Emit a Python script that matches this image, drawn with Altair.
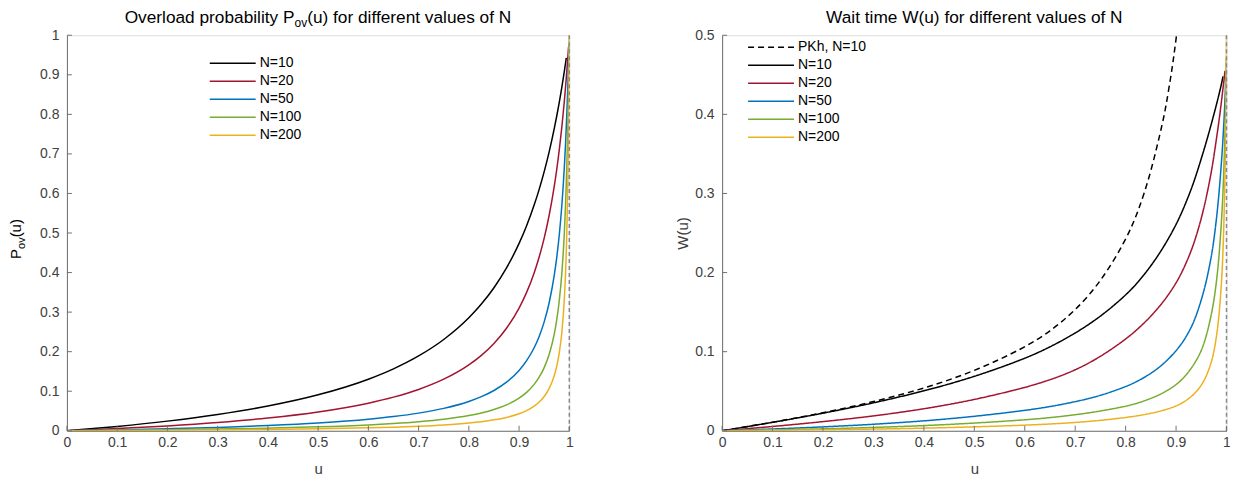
import altair as alt
import pandas as pd

FONT = "Liberation Sans"

# ---------------- text ----------------
TITLE_L_A = "Overload probability P"
TITLE_L_SUB = "ov"
TITLE_L_B = "(u) for different values of N"
TITLE_R = "Wait time W(u) for different values of N"
YLAB_L_A = "P"
YLAB_L_SUB = "ov"
YLAB_L_B = "(u)"
YLAB_R = "W(u)"
XLAB = "u"

# ---------------- ticks ----------------
XTICKS = [0, 0.1, 0.2, 0.3, 0.4, 0.5, 0.6, 0.7, 0.8, 0.9, 1.0]
YTICKS_L = [0, 0.1, 0.2, 0.3, 0.4, 0.5, 0.6, 0.7, 0.8, 0.9, 1.0]
YTICKS_R = [0, 0.1, 0.2, 0.3, 0.4, 0.5]
VLINE_U = [1.0]

# ---------------- series ----------------
SERIES_L = ["N=10", "N=20", "N=50", "N=100", "N=200"]
SERIES_R = ["PKh, N=10", "N=10", "N=20", "N=50", "N=100", "N=200"]
COLORS_L = ["#000000", "#A2142F", "#0072BD", "#77AC30", "#EDB120"]
COLORS_R = ["#000000", "#000000", "#A2142F", "#0072BD", "#77AC30", "#EDB120"]
DASH_R = [[6, 4], [1, 0], [1, 0], [1, 0], [1, 0], [1, 0]]

U_BASE = [0, 0.1, 0.2, 0.3, 0.4, 0.5, 0.6, 0.65, 0.7, 0.75, 0.8, 0.825, 0.85, 0.875, 0.9, 0.915,
          0.93, 0.94, 0.95, 0.96, 0.97, 0.975, 0.98, 0.985, 0.99]

# Overload probability (left panel)
P10_U = U_BASE + [0.994]
P10 = [0, 0.011, 0.0244, 0.0411, 0.0625, 0.0909, 0.1304, 0.1566, 0.1892, 0.2308, 0.2857, 0.3204,
       0.3617, 0.4118, 0.4737, 0.5184, 0.5706, 0.6104, 0.6552, 0.7059, 0.7638, 0.7959, 0.8305,
       0.8678, 0.9083, 0.943]
P20_U = U_BASE + [0.9925, 0.995, 0.9985]
P20 = [0, 0.0055, 0.0123, 0.021, 0.0323, 0.0476, 0.0698, 0.085, 0.1045, 0.1304, 0.1667, 0.1908,
       0.2208, 0.2593, 0.3103, 0.3499, 0.3991, 0.4393, 0.4872, 0.5455, 0.6178, 0.661, 0.7101,
       0.7665, 0.8319, 0.8687, 0.9087, 0.971]
P50_U = U_BASE + [0.9925, 0.995, 0.997, 0.998, 0.9995]
P50 = [0, 0.0022, 0.005, 0.0085, 0.0132, 0.0196, 0.0291, 0.0358, 0.0446, 0.0566, 0.0741, 0.0862,
       0.1018, 0.1228, 0.1525, 0.1772, 0.2099, 0.2386, 0.2754, 0.3243, 0.3927, 0.4382, 0.4949,
       0.5677, 0.6644, 0.7258, 0.7992, 0.8692, 0.9089, 0.975]
P100_U = U_BASE + [0.9925, 0.995, 0.997, 0.998, 0.999, 1.0]
P100 = [0, 0.0011, 0.0025, 0.0043, 0.0066, 0.0099, 0.0148, 0.0182, 0.0228, 0.0291, 0.0385, 0.045,
        0.0536, 0.0654, 0.0826, 0.0972, 0.1173, 0.1354, 0.1597, 0.1935, 0.2443, 0.2806, 0.3289,
        0.3964, 0.4975, 0.5696, 0.6656, 0.7687, 0.833, 0.909, 0.99]
P200_U = U_BASE + [0.9925, 0.995, 0.997, 0.998, 0.999, 1.0]
P200 = [0, 0.0006, 0.0013, 0.0021, 0.0033, 0.005, 0.0074, 0.0092, 0.0115, 0.0148, 0.0196, 0.023,
        0.0276, 0.0338, 0.0431, 0.0511, 0.0623, 0.0726, 0.0868, 0.1071, 0.1392, 0.1632, 0.1968,
        0.2472, 0.3311, 0.3982, 0.4987, 0.6243, 0.7139, 0.8332, 1.0]

# Wait time (right panel)
PK_U = [0, 0.1, 0.2, 0.3, 0.4, 0.5, 0.6, 0.65, 0.7, 0.75, 0.8, 0.825, 0.85, 0.875, 0.88, 0.89,
        0.895, 0.9, 0.905]
PK = [0, 0.0106, 0.0225, 0.0364, 0.0533, 0.075, 0.105, 0.1254, 0.1517, 0.1875, 0.24, 0.277,
      0.3258, 0.3938, 0.4107, 0.449, 0.471, 0.495, 0.522]
W10_U = U_BASE + [0.993]
W10 = [0, 0.0105, 0.022, 0.035, 0.05, 0.068, 0.091, 0.1057, 0.123, 0.144, 0.171, 0.188, 0.208,
       0.2316, 0.26, 0.2812, 0.305, 0.3235, 0.344, 0.365, 0.388, 0.40, 0.412, 0.425, 0.438, 0.448]
W20_U = U_BASE + [0.9925, 0.995, 0.997]
W20 = [0, 0.0053, 0.0114, 0.0185, 0.0274, 0.039, 0.0544, 0.0642, 0.0763, 0.0933, 0.1155, 0.129,
       0.1445, 0.1628, 0.186, 0.2047, 0.227, 0.246, 0.268, 0.2946, 0.327, 0.347, 0.369, 0.391,
       0.416, 0.43, 0.443, 0.455]
W50_U = U_BASE + [0.9925, 0.995, 0.997, 0.999]
W50 = [0, 0.0022, 0.0048, 0.0081, 0.0123, 0.018, 0.0256, 0.0304, 0.0366, 0.0442, 0.0556, 0.0629,
       0.0723, 0.0841, 0.1007, 0.1134, 0.13, 0.1455, 0.165, 0.1881, 0.22, 0.241, 0.267, 0.298,
       0.339, 0.3629, 0.392, 0.4172, 0.455]
W100_U = U_BASE + [0.9925, 0.995, 0.997, 0.998, 0.9995]
W100 = [0, 0.0011, 0.0024, 0.0041, 0.0064, 0.0096, 0.0137, 0.0165, 0.0201, 0.0248, 0.0308, 0.0351,
        0.0408, 0.0477, 0.0578, 0.0666, 0.0786, 0.0887, 0.1006, 0.119, 0.1466, 0.1642, 0.1875,
        0.218, 0.2637, 0.2933, 0.333, 0.3767, 0.4, 0.47]
W200_U = U_BASE + [0.9925, 0.995, 0.997, 0.998, 0.999, 1.0]
W200 = [0, 0.0006, 0.0012, 0.0021, 0.0032, 0.0049, 0.007, 0.0085, 0.0104, 0.013, 0.0167, 0.019,
        0.022, 0.0257, 0.031, 0.036, 0.043, 0.049, 0.0573, 0.0685, 0.0863, 0.0996, 0.118, 0.1434,
        0.185, 0.217, 0.264, 0.3215, 0.357, 0.4166, 0.5]


def long_df(pairs):
    rows = []
    for name, us, vs in pairs:
        for u, v in zip(us, vs):
            rows.append({"series": name, "u": u, "v": v})
    return pd.DataFrame(rows)


df_l = long_df([("N=10", P10_U, P10), ("N=20", P20_U, P20), ("N=50", P50_U, P50),
                ("N=100", P100_U, P100), ("N=200", P200_U, P200)])
df_r = long_df([("PKh, N=10", PK_U, PK), ("N=10", W10_U, W10), ("N=20", W20_U, W20),
                ("N=50", W50_U, W50), ("N=100", W100_U, W100), ("N=200", W200_U, W200)])

# ---------------- styling ----------------
WL, WR, H = 503, 505, 396
AXC = "#707070"
LBC = "#404040"
TICK = 5

xscale = alt.Scale(domain=[0, 1], nice=False, zero=False)
yscale_l = alt.Scale(domain=[0, 1], nice=False)
yscale_r = alt.Scale(domain=[0, 0.5], nice=False)

axis_common = dict(grid=False, ticks=False, domainColor=AXC, domainWidth=1, labelColor=LBC,
                   labelFontSize=14, labelFont=FONT, titleFont=FONT, titleFontSize=15,
                   titleFontWeight="normal", titleColor=LBC, labelFlush=False)

xaxis = alt.Axis(values=XTICKS, format="~g", labelPadding=5, title=XLAB, titlePadding=12, **axis_common)
yaxis_l = alt.Axis(values=YTICKS_L, format="~g", labelPadding=8, title="", **axis_common)
yaxis_r = alt.Axis(values=YTICKS_R, format="~g", labelPadding=8, title=YLAB_R, titlePadding=4,
                   **axis_common)

leg_common = dict(title=None, orient="none", symbolType="stroke", symbolSize=2116,
                  symbolStrokeWidth=1.5, labelFontSize=14, labelFont=FONT, labelColor="black",
                  labelOffset=3, rowPadding=4, clipHeight=12, padding=0)
legend_l = alt.Legend(legendX=142, legendY=22, **leg_common)
legend_r = alt.Legend(legendX=25, legendY=6, **leg_common)


def vline():
    return alt.Chart(pd.DataFrame({"u": VLINE_U})).mark_rule(
        color="#8a8a8a", strokeDash=[4, 3], strokeWidth=1.5
    ).encode(x=alt.X("u:Q", scale=xscale, axis=xaxis), y=alt.value(0), y2=alt.value(H))


def ticks(yticks, yscale, yaxis):
    xt = alt.Chart(pd.DataFrame({"u": XTICKS})).mark_rule(color=AXC, strokeWidth=1).encode(
        x=alt.X("u:Q", scale=xscale, axis=xaxis), y=alt.value(H), y2=alt.value(H - TICK))
    yt = alt.Chart(pd.DataFrame({"v": yticks})).mark_rule(color=AXC, strokeWidth=1).encode(
        y=alt.Y("v:Q", scale=yscale, axis=yaxis), x=alt.value(0), x2=alt.value(TICK))
    return xt, yt


def text_piece(s, x, y, size, align, angle=0):
    kw = dict(font=FONT, fontSize=size, align=align, baseline="alphabetic", color="black")
    if angle:
        kw["angle"] = angle
    return alt.Chart(pd.DataFrame({"s": [s]})).mark_text(**kw).encode(
        text="s:N", x=alt.value(x), y=alt.value(y))


# ---------------- left panel ----------------
lines_l = alt.Chart(df_l).mark_line(strokeWidth=1.5, interpolate="monotone", clip=True).encode(
    x=alt.X("u:Q", scale=xscale, axis=xaxis),
    y=alt.Y("v:Q", scale=yscale_l, axis=yaxis_l),
    color=alt.Color("series:N", scale=alt.Scale(domain=SERIES_L, range=COLORS_L), legend=legend_l),
)

TY = -12
fs_t, fs_sub = 17.3, 12
w_a = 9.837 * fs_t
w_sub = 1.056 * fs_sub
w_b = 11.838 * fs_t
x_start = WL / 2 - (w_a + w_sub + w_b) / 2
xp = x_start + w_a
title_l = [
    text_piece(TITLE_L_A, xp, TY, fs_t, "right"),
    text_piece(TITLE_L_SUB, xp, TY + 4, fs_sub, "left"),
    text_piece(TITLE_L_B, xp + w_sub, TY, fs_t, "left"),
]

XB = -46
fy, fy_sub = 15, 11
wy_p = 0.667 * fy
wy_sub = 1.056 * fy_sub
wy_b = 1.222 * fy
y0 = H / 2 + 6 + (wy_p + wy_sub + wy_b) / 2
ylab_l = [
    text_piece(YLAB_L_A, XB, y0, fy, "left", 270),
    text_piece(YLAB_L_SUB, XB + 4, y0 - wy_p, fy_sub, "left", 270),
    text_piece(YLAB_L_B, XB, y0 - wy_p - wy_sub, fy, "left", 270),
]

xt_l, yt_l = ticks(YTICKS_L, yscale_l, yaxis_l)
left = alt.layer(lines_l, vline(), xt_l, yt_l, *title_l, *ylab_l).properties(width=WL, height=H)

# ---------------- right panel ----------------
lines_r = alt.Chart(df_r).mark_line(strokeWidth=1.5, interpolate="basis", clip=True).encode(
    x=alt.X("u:Q", scale=xscale, axis=xaxis),
    y=alt.Y("v:Q", scale=yscale_r, axis=yaxis_r),
    color=alt.Color("series:N", scale=alt.Scale(domain=SERIES_R, range=COLORS_R), legend=legend_r),
    strokeDash=alt.StrokeDash("series:N", scale=alt.Scale(domain=SERIES_R, range=DASH_R),
                              legend=legend_r),
)
title_r = text_piece(TITLE_R, WR / 2, TY, fs_t, "center")
xt_r, yt_r = ticks(YTICKS_R, yscale_r, yaxis_r)
right = alt.layer(lines_r, vline(), xt_r, yt_r, title_r).properties(width=WR, height=H)

chart = alt.hconcat(left, right, spacing=101).resolve_scale(
    x="independent", y="independent", color="independent", strokeDash="independent"
).properties(
    padding={"left": 0, "top": 0, "right": -1.5, "bottom": 0}
).configure_view(stroke=None).configure(font=FONT, background="white")

chart.save("out.html", embed_options={"renderer": "svg", "actions": False})
